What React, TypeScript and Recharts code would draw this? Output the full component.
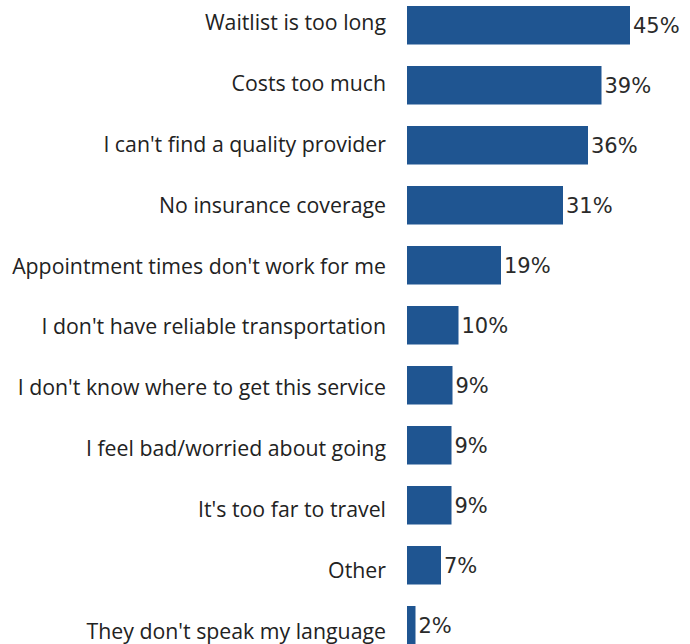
import React from 'react';
import { BarChart, Bar, XAxis, YAxis, LabelList } from 'recharts';

// survey reasons, top to bottom
const reasons = [
  'Waitlist is too long',
  'Costs too much',
  "I can't find a quality provider",
  'No insurance coverage',
  "Appointment times don't work for me",
  "I don't have reliable transportation",
  "I don't know where to get this service",
  'I feel bad/worried about going',
  "It's too far to travel",
  'Other',
  "They don't speak my language",
];

// share of respondents (%)
const shares = [44.6, 38.9, 36.2, 31.2, 18.8, 10.3, 9.1, 8.9, 8.9, 6.8, 1.7];

const xDomain = [0, 56];

const data = reasons.map((reason, i) => ({ reason, pct: shares[i] }));

const BAR_COLOR = '#1f5591';
const TEXT_COLOR = '#222222';

const ReasonTick = (props: any) => {
  const { x, y, payload } = props;
  const idx = reasons.indexOf(payload.value);
  // labels sit on a slightly wider pitch than the bars
  const shift = -2.5 + idx * 0.95;
  return (
    <text
      x={x}
      y={y + shift}
      dy="0.34em"
      textAnchor="end"
      fill={TEXT_COLOR}
      fontFamily="'Open Sans', sans-serif"
      fontSize={21.3}
    >
      {payload.value}
    </text>
  );
};

export default function App() {
  return (
    <div style={{ position: 'fixed', left: 0, top: 0, width: 690, height: 644, overflow: 'hidden', background: '#fff' }}>
      <div style={{ marginTop: -5.5 }}>
        <BarChart
          width={690}
          height={660}
          data={data}
          layout="vertical"
          margin={{ top: 0, right: 3, bottom: 0, left: 0 }}
        >
          <XAxis type="number" domain={xDomain} hide />
          <YAxis
            type="category"
            dataKey="reason"
            width={407}
            axisLine={false}
            tickLine={false}
            tickSize={0}
            tickMargin={21}
            interval={0}
            tick={<ReasonTick />}
          />
          <Bar dataKey="pct" fill={BAR_COLOR} barSize={38.5} isAnimationActive={false}>
            <LabelList
              dataKey="pct"
              position="right"
              offset={3}
              formatter={(v: any) => `${Math.round(Number(v))}%`}
              style={{ fontFamily: "'DejaVu Sans', sans-serif", fontSize: 21, fill: '#2a2a2a' }}
            />
          </Bar>
        </BarChart>
      </div>
    </div>
  );
}
